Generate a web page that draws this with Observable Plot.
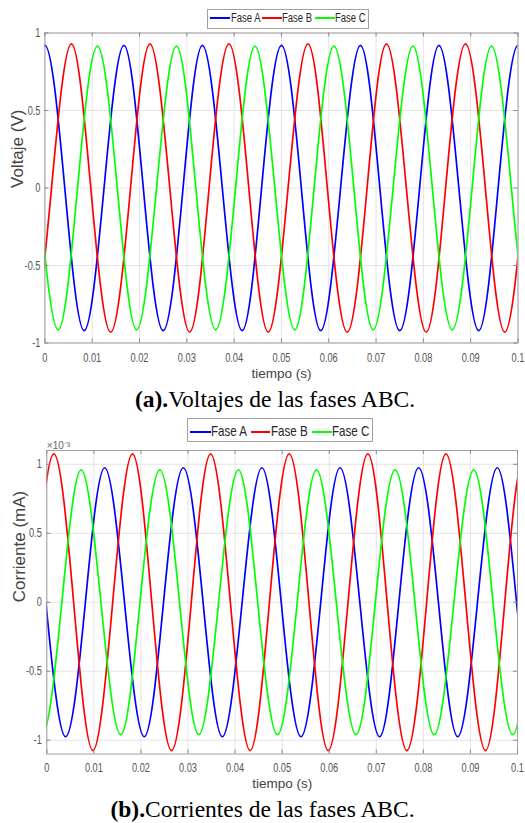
<!DOCTYPE html>
<html><head><meta charset="utf-8">
<script src="https://cdn.jsdelivr.net/npm/d3@7"></script>
<script src="https://cdn.jsdelivr.net/npm/@observablehq/plot@0.6"></script>
<style>
html,body{margin:0;padding:0;background:#fff;}
#page{position:relative;width:525px;height:823px;overflow:hidden;background:#fff;}
.panel{position:absolute;left:0;}
.legend{position:absolute;box-sizing:border-box;border:1px solid #a0a0a0;background:#fff;font-family:"Liberation Sans",Arial,sans-serif;color:#262626;}
.item{position:absolute;white-space:nowrap;line-height:1;transform-origin:0 50%;}
.swatch{position:absolute;height:0;border-top:2px solid;}
.caption{position:absolute;white-space:nowrap;transform:translateX(-50%);font-family:"Liberation Serif","Times New Roman",serif;font-size:23.5px;line-height:1;color:#000;}
</style></head>
<body><div id="page"></div>
<script>
// ---- shared axis values ----
const xTicks = [0, 0.01, 0.02, 0.03, 0.04, 0.05, 0.06, 0.07, 0.08, 0.09, 0.1];
const yTicks = [-1, -0.5, 0, 0.5, 1];
const phaseNames = ["Fase A", "Fase B", "Fase C"];
const phaseColors = ["#0000ff", "#ff0000", "#00ff00"];

// ---- (a) voltages: key points [t (s), V] (zeros and extrema) ----
const voltA = [[-0.0042,0],[0,0.92],[0.0042,0],[0.0083,-0.92],[0.0125,0],[0.0167,0.92],[0.0208,0],[0.0250,-0.92],[0.0292,0],[0.0333,0.92],[0.0375,0],[0.0417,-0.92],[0.0458,0],[0.0500,0.92],[0.0542,0],[0.0583,-0.92],[0.0625,0],[0.0667,0.92],[0.0708,0],[0.0750,-0.92],[0.0792,0],[0.0833,0.92],[0.0875,0],[0.0917,-0.92],[0.0958,0],[0.1000,0.92],[0.1042,0]];
const voltB = [[-0.0069,0],[-0.0028,-0.93],[0.0014,0],[0.0056,0.93],[0.0097,0],[0.0139,-0.93],[0.0181,0],[0.0222,0.93],[0.0264,0],[0.0306,-0.93],[0.0347,0],[0.0389,0.93],[0.0431,0],[0.0472,-0.93],[0.0514,0],[0.0556,0.93],[0.0597,0],[0.0639,-0.93],[0.0681,0],[0.0722,0.93],[0.0764,0],[0.0806,-0.93],[0.0847,0],[0.0889,0.93],[0.0931,0],[0.0972,-0.93],[0.1014,0]];
const voltC = [[-0.0014,0],[0.0028,-0.915],[0.0069,0],[0.0111,0.915],[0.0153,0],[0.0194,-0.915],[0.0236,0],[0.0278,0.915],[0.0319,0],[0.0361,-0.915],[0.0403,0],[0.0444,0.915],[0.0486,0],[0.0528,-0.915],[0.0569,0],[0.0611,0.915],[0.0653,0],[0.0694,-0.915],[0.0736,0],[0.0778,0.915],[0.0819,0],[0.0861,-0.915],[0.0903,0],[0.0944,0.915],[0.0986,0],[0.1028,-0.915],[0.1069,0]];

// ---- (b) currents (×10^-3): key points [t (s), I] ----
const currA = [[-0.0002,0],[0.0040,-0.975],[0.0082,0],[0.0123,0.975],[0.0165,0],[0.0207,-0.975],[0.0248,0],[0.0290,0.975],[0.0332,0],[0.0373,-0.975],[0.0415,0],[0.0457,0.975],[0.0498,0],[0.0540,-0.975],[0.0582,0],[0.0623,0.975],[0.0665,0],[0.0707,-0.975],[0.0748,0],[0.0790,0.975],[0.0832,0],[0.0873,-0.975],[0.0915,0],[0.0957,0.975],[0.0998,0],[0.1040,-0.975],[0.1082,0]];
const currB = [[-0.0027,0],[0.0015,1.075],[0.0057,0],[0.0098,-1.075],[0.0140,0],[0.0182,1.075],[0.0223,0],[0.0265,-1.075],[0.0307,0],[0.0348,1.075],[0.0390,0],[0.0432,-1.075],[0.0473,0],[0.0515,1.075],[0.0557,0],[0.0598,-1.075],[0.0640,0],[0.0682,1.075],[0.0723,0],[0.0765,-1.075],[0.0807,0],[0.0848,1.075],[0.0890,0],[0.0932,-1.075],[0.0973,0],[0.1015,1.075],[0.1057,0]];
const currC = [[-0.0052,0],[-0.0010,-0.96],[0.0032,0],[0.0073,0.96],[0.0115,0],[0.0157,-0.96],[0.0198,0],[0.0240,0.96],[0.0282,0],[0.0323,-0.96],[0.0365,0],[0.0407,0.96],[0.0448,0],[0.0490,-0.96],[0.0532,0],[0.0573,0.96],[0.0615,0],[0.0657,-0.96],[0.0698,0],[0.0740,0.96],[0.0782,0],[0.0823,-0.96],[0.0865,0],[0.0907,0.96],[0.0948,0],[0.0990,-0.96],[0.1032,0]];

const xLabel = "tiempo (s)";
const yLabelA = "Voltaje (V)";
const yLabelB = "Corriente (mA)";
const exponentLabel = "×10⁻³";
const captionA = ["(a).", "Voltajes de las fases ABC."];
const captionB = ["(b).", "Corrientes de las fases ABC."];

const sans = '"Liberation Sans",Arial,sans-serif';
const page = document.getElementById("page");

// horizontally condense text drawn by Plot (the source figure has narrow lettering)
function squeeze(svg, label, sx, sy) {
  svg.querySelectorAll(`g[aria-label="${label}"] text`).forEach(t => {
    const tr = t.getAttribute("transform") || "";
    t.setAttribute("transform", `${tr} scale(${sx},${sy})`);
  });
}

function makePanel({series, yDomain, yLabel, top, height, mt, mb, ml, mr, yPad, xPad, xLabelDy, yLabelDx, extra = []}) {
  const W = 525;
  const fw = W - ml - mr, fh = height - mt - mb;
  const lines = series.map((s, i) => Plot.line(s, {
    x: d => d[0], y: d => d[1], stroke: phaseColors[i], strokeWidth: 1.7, curve: "natural", clip: true
  }));
  const chart = Plot.plot({
    width: W, height,
    marginTop: mt, marginBottom: mb, marginLeft: ml, marginRight: mr,
    style: {fontFamily: sans, background: "#fff", overflow: "visible"},
    x: {domain: [0, 0.1]},
    y: {domain: yDomain},
    marks: [
      Plot.gridX(xTicks, {stroke: "#e4e4e4", strokeOpacity: 1}),
      Plot.gridY(yTicks, {stroke: "#e4e4e4", strokeOpacity: 1}),
      ...lines,
      Plot.frame({stroke: "#a0a0a0"}),
      Plot.tickX(xTicks, {x: d => d, insetTop: fh - 4, stroke: "#8a8a8a"}),
      Plot.tickX(xTicks, {x: d => d, insetBottom: fh - 4, stroke: "#8a8a8a"}),
      Plot.tickY(yTicks, {y: d => d, insetRight: fw - 4, stroke: "#8a8a8a"}),
      Plot.tickY(yTicks, {y: d => d, insetLeft: fw - 4, stroke: "#8a8a8a"}),
      Plot.axisX(xTicks, {tickSize: 0, tickPadding: xPad, tickFormat: d => String(d), fontSize: 13, fill: "#555", label: null}),
      Plot.axisY(yTicks, {tickSize: 0, tickPadding: yPad, tickFormat: d => String(d), fontSize: 13, fill: "#555", label: null}),
      Plot.text([xLabel], {text: d => d, frameAnchor: "bottom", dy: xLabelDy, fontSize: 13.5, fill: "#444", ariaLabel: "xlabel"}),
      Plot.text([yLabel], {text: d => d, frameAnchor: "left", rotate: -90, dx: yLabelDx, fontSize: 17, fill: "#444", ariaLabel: "ylabel"}),
      ...extra
    ]
  });
  squeeze(chart, "x-axis tick label", 0.71, 1);
  squeeze(chart, "y-axis tick label", 0.71, 1);
  squeeze(chart, "xlabel", 0.88, 1);
  squeeze(chart, "ylabel", 1, 0.85);
  squeeze(chart, "exponent", 0.8, 1);
  const wrap = document.createElement("div");
  wrap.className = "panel";
  wrap.style.top = top + "px";
  wrap.appendChild(chart);
  page.appendChild(wrap);
}

makePanel({series: [voltA, voltB, voltC], yDomain: [-1, 1], yLabel: yLabelA,
  top: 0, height: 390, mt: 32.5, mb: 47.5, ml: 44.4, mr: 7.5, yPad: 4.4, xPad: 10, xLabelDy: 35.2, yLabelDx: -27});
makePanel({series: [currA, currB, currC], yDomain: [-1.1, 1.1], yLabel: yLabelB,
  top: 420, height: 380, mt: 30, mb: 46.5, ml: 46.3, mr: 8, yPad: 5, xPad: 9, xLabelDy: 34.2, yLabelDx: -27.6,
  extra: [Plot.text([exponentLabel], {text: d => d, frameAnchor: "top-left", textAnchor: "start", dy: -9, fontSize: 10, fill: "#666", ariaLabel: "exponent"})]});

function makeLegend({left, top, width, height, fontSize, sx, swatches, texts, cy}) {
  const box = document.createElement("div");
  box.className = "legend";
  Object.assign(box.style, {left: left + "px", top: top + "px", width: width + "px", height: height + "px", fontSize: fontSize + "px"});
  phaseNames.forEach((name, i) => {
    const sw = document.createElement("div");
    sw.className = "swatch";
    Object.assign(sw.style, {left: (swatches[i][0] - 1) + "px", width: (swatches[i][1] - swatches[i][0]) + "px", top: (cy - 2) + "px", borderTopColor: phaseColors[i]});
    box.appendChild(sw);
    const t = document.createElement("div");
    t.className = "item";
    t.textContent = name;
    Object.assign(t.style, {left: (texts[i] - 1) + "px", top: (cy - 1 - fontSize * 0.5) + "px", transform: `scaleX(${sx})`});
    box.appendChild(t);
  });
  page.appendChild(box);
}
makeLegend({left: 206.5, top: 8.5, width: 162.5, height: 20, fontSize: 12, sx: 0.79, cy: 9.8,
  swatches: [[3.3, 23.3], [55.5, 75], [108.3, 128.3]], texts: [24, 75.5, 128.8]});
makeLegend({left: 187, top: 418, width: 186, height: 24, fontSize: 14.5, sx: 0.8, cy: 13.7,
  swatches: [[3, 23.7], [64, 83], [125, 144.7]], texts: [24, 84, 145]});

function makeCaption(parts, cx, top) {
  const c = document.createElement("div");
  c.className = "caption";
  c.style.left = cx + "px";
  c.style.top = top + "px";
  const b = document.createElement("b");
  b.textContent = parts[0];
  c.appendChild(b);
  c.appendChild(document.createTextNode(parts[1]));
  page.appendChild(c);
}
makeCaption(captionA, 275, 387.5);
makeCaption(captionB, 262.5, 797.5);
</script></body></html>
